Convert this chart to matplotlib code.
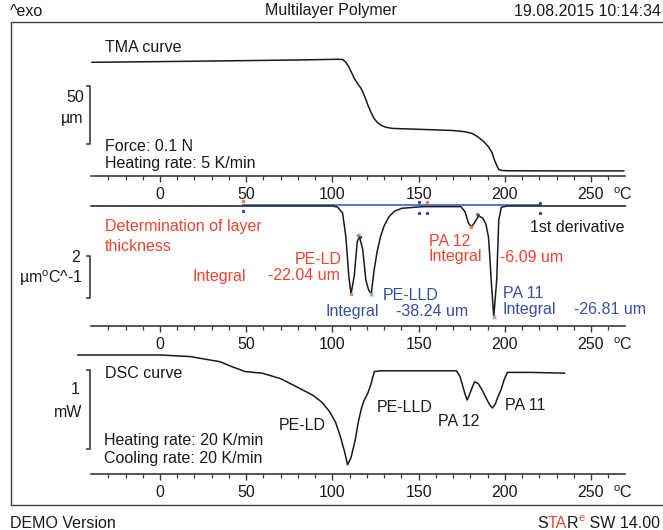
import matplotlib
matplotlib.use("Agg")
import matplotlib.pyplot as plt
from matplotlib.patches import Rectangle

plt.rcParams["font.family"] = ["Liberation Sans", "DejaVu Sans"]
plt.rcParams["mathtext.fontset"] = "custom"
plt.rcParams["mathtext.rm"] = "Liberation Sans"

# --- data --------------------------------------------------------------
# TMA curve: temperature (C) vs. probe position (um)
tma_t = [-39.4, 0, 29.7, 80, 103.3, 105.9, 107.5, 109.5, 111.0, 112.7, 114.0,
         115.2, 116.5, 117.6, 119.0, 120.6, 122.5, 124.2, 126.0, 128.0, 131.0,
         135.0, 151.0, 170.0, 177.0, 181.0, 184.3, 187.5, 190.5, 192.5, 194.0,
         195.5, 196.6, 198.0, 201.0, 230.0, 269.0]
tma_um = [0.0, 0.6, 1.1, 2.0, 2.6, 2.4, 0.5, -3.8, -8.5, -13.9, -17.0,
          -19.7, -22.2, -25.4, -30.5, -36.9, -43.5, -48.4, -51.8, -54.1, -56.0,
          -57.0, -57.8, -58.8, -59.9, -61.3, -64.2, -68.0, -72.8, -77.5, -84.3,
          -89.5, -92.5, -93.2, -93.5, -93.6, -93.6]

# 1st derivative: temperature (C) vs. um/C
der_t = [-40, 50, 100, 103.0, 105.9, 107.8, 109.5, 110.8, 112.7, 114.4, 115.7,
         117.6, 119.4, 121.0, 122.5, 124.2, 126.0, 127.9, 130.0, 132.8, 136.0,
         140.2, 152.5, 174.5, 176.9, 178.9, 180.6, 182.3, 184.8, 187.2, 189.0,
         190.5, 191.3, 192.1, 193.6, 195.3, 196.5, 198.0, 201.5, 270]
der_v = [0.0, 0.0, 0.0, -0.05, -0.33, -1.46, -3.32, -4.19, -3.32, -1.70, -1.46,
         -2.08, -3.52, -4.00, -4.19, -3.05, -2.15, -1.46, -0.95, -0.51, -0.25,
         -0.11, -0.03, -0.03, -0.27, -0.81, -1.00, -0.81, -0.48, -0.57, -0.85,
         -1.46, -2.40, -3.52, -5.27, -3.52, -0.67, -0.06, 0.0, 0.0]

# DSC curve: temperature (C) vs. heat flow (mW)
dsc_t = [-47.6, 0.4, 17.5, 34.8, 42.0, 49.4, 59.3, 70.0, 79.0, 88.7, 94.0,
         98.5, 101.8, 104.6, 107.0, 108.8, 110.8, 113.2, 115.0, 116.9, 118.5,
         120.6, 122.5, 124.3, 128.0, 150.0, 172.0, 174.0, 175.7, 177.0, 178.2,
         179.5, 182.4, 184.5, 186.8, 189.5, 191.5, 192.9, 194.5, 196.0, 197.8,
         199.5, 201.5, 215.0, 234.6]
dsc_mw = [0.0, 0.0, -0.02, -0.085, -0.15, -0.21, -0.23, -0.30, -0.40, -0.51, -0.60,
          -0.72, -0.85, -1.03, -1.22, -1.39, -1.30, -1.08, -0.85, -0.67, -0.57,
          -0.48, -0.36, -0.21, -0.20, -0.20, -0.20, -0.27, -0.40, -0.50, -0.57,
          -0.50, -0.34, -0.36, -0.44, -0.56, -0.64, -0.67, -0.62, -0.53, -0.44,
          -0.32, -0.22, -0.22, -0.23]

# evaluation markers on the derivative curve (C, um/C)
orange_t = [48, 154.7, 110.8, 115.0, 180.6, 183.6]
orange_v = [0.24, 0.19, -4.19, -1.40, -1.00, -0.40]
dot_t = [48, 150.4, 150.4, 154.7, 220.4, 220.4, 115.9, 184.6]
dot_v = [-0.24, 0.19, -0.33, -0.33, 0.14, -0.33, -1.46, -0.44]
cross_t = [122.5, 193.6]
cross_v = [-4.19, -5.27]
baseline_t = [48, 220.4]
baseline_v = [0.04, 0.04]

major_ticks = [0, 50, 100, 150, 200, 250]
minor_ticks = list(range(-30, 261, 10))

DEG_C = r"$^{\mathrm{o}}$C"
RED = "#ec4632"
BLUE = "#34509e"
INK = "#1a1a1a"
GREY = "#3a3a3a"
FS = 11.5

# --- layout (pixels) ---------------------------------------------------
W, H = 663, 530
X_ZERO, PX_PER_C = 160.0, 1.724
T_MIN, T_MAX = -50, 275

fig = plt.figure(figsize=(W / 100, H / 100), dpi=100)
page = fig.add_axes([0, 0, 1, 1])
page.set_xlim(0, W)
page.set_ylim(H, 0)
page.axis("off")


def curve_axes(top, ruler, zero_px, px_per_unit):
    left = X_ZERO + PX_PER_C * T_MIN
    right = X_ZERO + PX_PER_C * T_MAX
    ax = fig.add_axes([left / W, 1 - ruler / H, (right - left) / W, (ruler - top) / H])
    ax.set_xlim(T_MIN, T_MAX)
    ax.set_ylim(-(ruler - zero_px) / px_per_unit, (zero_px - top) / px_per_unit)
    ax.patch.set_visible(False)
    for s in ["top", "left", "right"]:
        ax.spines[s].set_visible(False)
    ax.spines["bottom"].set_bounds(-40, 270)
    ax.spines["bottom"].set_color(GREY)
    ax.spines["bottom"].set_linewidth(1.2)
    ax.set_yticks([])
    ax.set_xticks(major_ticks)
    ax.set_xticks(minor_ticks, minor=True)
    ax.tick_params(axis="x", which="major", direction="out", length=4.5, width=1.0,
                   color=GREY, pad=3.5, labelsize=FS, labelcolor=INK)
    ax.tick_params(axis="x", which="minor", direction="out", length=3, width=0.9,
                   color=GREY)
    page.text(613, ruler + 18.5, DEG_C, ha="left", va="center", fontsize=FS, color=INK)
    return ax


def bracket(y_top, y_bot):
    page.plot([86.5, 90, 90, 86.5], [y_top, y_top, y_bot, y_bot], color=GREY, lw=1.2)


# header / footer
page.text(10, 11, "^exo", ha="left", va="center", fontsize=FS, color=INK)
page.text(331, 11, "Multilayer Polymer", ha="center", va="center", fontsize=FS, color=INK)
page.text(661, 11, "19.08.2015 10:14:34", ha="right", va="center", fontsize=FS, color=INK)
page.add_patch(Rectangle((10.5, 21.5), 700, 483, fill=False, lw=1.0, ec=GREY))
page.text(10, 523, "DEMO Version", ha="left", va="center", fontsize=FS, color=INK)
t = page.text(660, 528, " SW 14.00", ha="right", va="baseline", fontsize=FS, color=INK)
for piece, col, size, ydat in [("e", RED, 8, 521), ("R", INK, FS, 528),
                               ("TA", RED, FS, 528), ("S", INK, FS, 528)]:
    t = page.annotate(piece, xy=(0, ydat), xycoords=(t, "data"), ha="right",
                      va="baseline", fontsize=size, color=col)

# TMA panel
ax1 = curve_axes(22, 176, 62.3, 1.16)
ax1.plot(tma_t, tma_um, color=INK, lw=1.1)
page.text(105, 47, "TMA curve", ha="left", va="center", fontsize=FS, color=INK)
page.text(84, 98, "50", ha="right", va="center", fontsize=FS, color=INK)
page.text(83, 118, "µm", ha="right", va="center", fontsize=FS, color=INK)
bracket(86, 144)
page.text(105, 146.5, "Force: 0.1 N", ha="left", va="center", fontsize=FS, color=INK)
page.text(105, 163.5, "Heating rate: 5 K/min", ha="left", va="center", fontsize=FS, color=INK)

# derivative panel
ax2 = curve_axes(195, 326, 206, 21.0)
ax2.plot(baseline_t, baseline_v, color="#5577cc", lw=1.4)
ax2.plot(der_t, der_v, color=INK, lw=1.1)
ax2.plot(orange_t, orange_v, "o", ms=2.6, color="#f07a3a", mew=0)
ax2.plot(dot_t, dot_v, "o", ms=2.4, color="#2d4393", mew=0)
ax2.plot(cross_t, cross_v, "x", ms=3.5, color="#8fb0dc", mew=1.0)
page.text(105, 226.5, "Determination of layer", ha="left", va="center", fontsize=FS, color=RED)
page.text(105, 246.5, "thickness", ha="left", va="center", fontsize=FS, color=RED)
page.text(341.5, 259, "PE-LD", ha="right", va="center", fontsize=FS, color=RED)
page.text(192.5, 276, "Integral", ha="left", va="center", fontsize=FS, color=RED)
page.text(268.5, 276, "-22.04 um", ha="left", va="center", fontsize=FS, color=RED)
page.text(382.5, 295, "PE-LLD", ha="left", va="center", fontsize=FS, color=BLUE)
page.text(325.5, 311.5, "Integral", ha="left", va="center", fontsize=FS, color=BLUE)
page.text(396.5, 311.5, "-38.24 um", ha="left", va="center", fontsize=FS, color=BLUE)
page.text(429, 241.5, "PA 12", ha="left", va="center", fontsize=FS, color=RED)
page.text(429, 257, "Integral", ha="left", va="center", fontsize=FS, color=RED)
page.text(499.5, 257, "-6.09 um", ha="left", va="center", fontsize=FS, color=RED)
page.text(503, 293.5, "PA 11", ha="left", va="center", fontsize=FS, color=BLUE)
page.text(503, 309.5, "Integral", ha="left", va="center", fontsize=FS, color=BLUE)
page.text(574, 309.5, "-26.81 um", ha="left", va="center", fontsize=FS, color=BLUE)
page.text(529.5, 227, "1st derivative", ha="left", va="center", fontsize=FS, color=INK)
page.text(80.5, 257, "2", ha="right", va="center", fontsize=FS, color=INK)
page.text(83, 278.5, "µm" + DEG_C + "^-1", ha="right", va="center", fontsize=FS, color=INK)
bracket(256, 298)

# DSC panel
ax3 = curve_axes(340, 474, 355, 79.0)
ax3.plot(dsc_t, dsc_mw, color=INK, lw=1.1, clip_on=False)
page.text(105, 373, "DSC curve", ha="left", va="center", fontsize=FS, color=INK)
page.text(79.5, 389.5, "1", ha="right", va="center", fontsize=FS, color=INK)
page.text(82, 412.5, "mW", ha="right", va="center", fontsize=FS, color=INK)
bracket(370, 449)
page.text(279, 426, "PE-LD", ha="left", va="center", fontsize=FS, color=INK)
page.text(376.5, 408, "PE-LLD", ha="left", va="center", fontsize=FS, color=INK)
page.text(437.5, 421, "PA 12", ha="left", va="center", fontsize=FS, color=INK)
page.text(505, 405.5, "PA 11", ha="left", va="center", fontsize=FS, color=INK)
page.text(103.5, 440.5, "Heating rate: 20 K/min", ha="left", va="center", fontsize=FS, color=INK)
page.text(103.5, 459, "Cooling rate: 20 K/min", ha="left", va="center", fontsize=FS, color=INK)

fig.savefig("out.png", dpi=100)
